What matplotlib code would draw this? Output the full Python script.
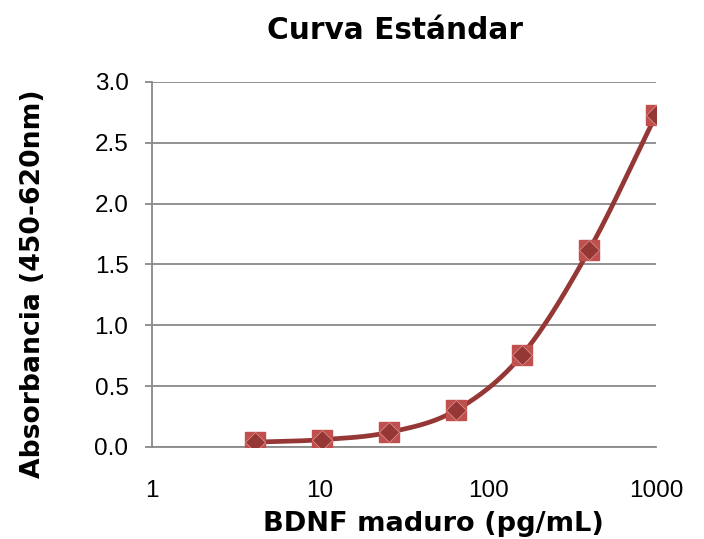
import numpy as np
import matplotlib
matplotlib.use("Agg")
import matplotlib.pyplot as plt
from matplotlib.font_manager import FontProperties

conc = [4.096, 10.24, 25.6, 64, 160, 400, 1000]
absorb = [0.04, 0.06, 0.12, 0.30, 0.76, 1.62, 2.73]
yticks = [0.0, 0.5, 1.0, 1.5, 2.0, 2.5, 3.0]
xticks = [1, 10, 100, 1000]

title = "Curva Estándar"
xlabel = "BDNF maduro (pg/mL)"
ylabel = "Absorbancia (450-620nm)"

def smooth(xs, ys, n=30):
    lx = np.log10(xs)
    ys = np.asarray(ys, float)
    P = np.column_stack([lx, ys])
    P = np.vstack([2 * P[0] - P[1], P, 2 * P[-1] - P[-2]])
    out = []
    for i in range(1, len(P) - 2):
        p0, p1, p2, p3 = P[i - 1], P[i], P[i + 1], P[i + 2]
        t = np.linspace(0, 1, n)[:, None]
        seg = 0.5 * ((2 * p1) + (-p0 + p2) * t + (2 * p0 - 5 * p1 + 4 * p2 - p3) * t**2
                     + (-p0 + 3 * p1 - 3 * p2 + p3) * t**3)
        out.append(seg)
    S = np.vstack(out)
    return 10 ** S[:, 0], S[:, 1]

tickfp = FontProperties(family="Liberation Sans", size=17.5)
labfp = FontProperties(family="DejaVu Sans", weight="bold", size=19.6)
ylabfp = FontProperties(family="DejaVu Sans", weight="bold", size=19.2)
titfp = FontProperties(family="DejaVu Sans", weight="bold", size=21.3)

fig = plt.figure(figsize=(7.04, 5.39), dpi=100)
ax = fig.add_axes([0.216, 0.1707, 0.716, 0.6773])

sx, sy = smooth(conc, absorb)
ax.plot(sx, sy, color="#953735", lw=3.4, zorder=3, solid_capstyle="round")
ax.plot(conc, absorb, ls="none", marker="s", ms=14.5, mfc="#C0504D", mec="#C0504D", zorder=4)
ax.plot(conc, absorb, ls="none", marker="D", ms=10.3, mfc="#953735", mec="#D98C8A", mew=0.6, zorder=5)

ax.set_xscale("log")
ax.set_xlim(1, 1000)
ax.set_ylim(0, 3.0)
ax.set_yticks(yticks)
ax.set_yticklabels([f"{v:.1f}" for v in yticks], fontproperties=tickfp)
ax.set_xticks(xticks)
ax.set_xticklabels([str(v) for v in xticks], fontproperties=tickfp)
ax.xaxis.set_minor_locator(matplotlib.ticker.NullLocator())

ax.yaxis.grid(True, color="#898989", lw=1.3)
ax.set_axisbelow(True)
for s in ["top", "right"]:
    ax.spines[s].set_visible(False)
for s in ["left", "bottom"]:
    ax.spines[s].set_color("#898989")
    ax.spines[s].set_linewidth(1.3)

ax.tick_params(axis="y", length=5, color="#898989", width=1.3, pad=12)
ax.tick_params(axis="x", length=0, pad=24)

ax.set_title(title, fontproperties=titfp, pad=31)
ax.title.set_x(0.482)
ax.set_xlabel(xlabel, fontproperties=labfp, labelpad=6)
ax.xaxis.label.set_x(0.5575)
ax.set_ylabel(ylabel, fontproperties=ylabfp, labelpad=35)
ax.yaxis.label.set_y(0.4466)

fig.savefig("out.png", dpi=100)
